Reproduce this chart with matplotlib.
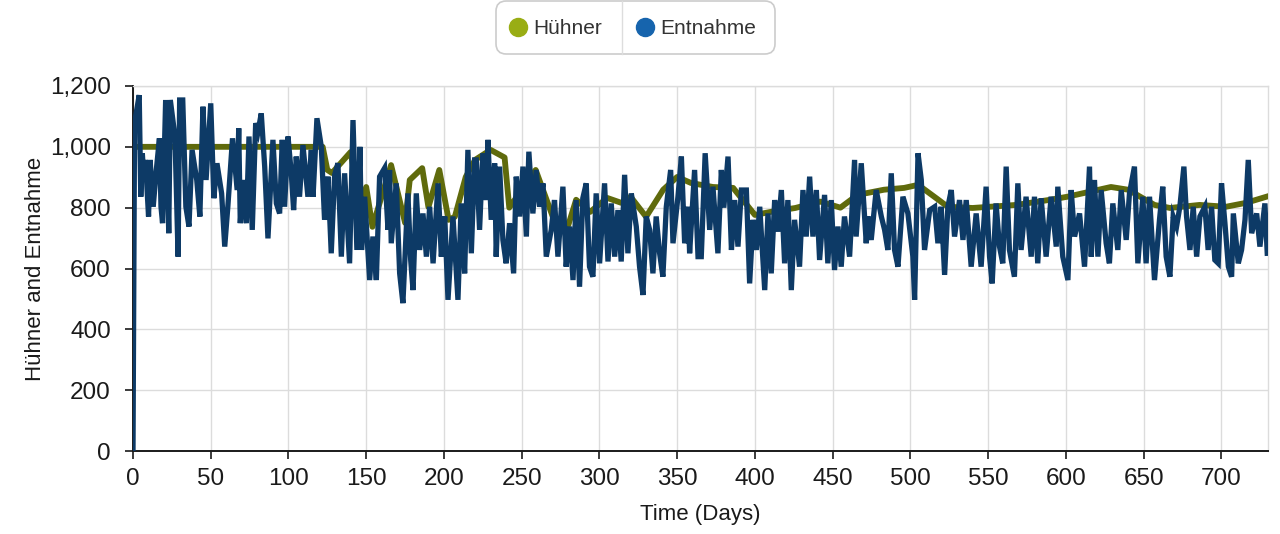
import matplotlib
matplotlib.use("Agg")
import matplotlib.pyplot as plt
from matplotlib.patches import FancyBboxPatch
from matplotlib.lines import Line2D
from matplotlib.ticker import FuncFormatter

plt.rcParams['font.family'] = ['Liberation Sans', 'DejaVu Sans']

# ---- data ----
huehner_days = [0, 122, 125, 128, 140, 146, 150, 154, 166, 175, 178, 186, 190, 197, 203, 207,
                214, 220, 230, 239, 242, 259, 270, 280, 285, 294, 305, 314, 320, 330, 341, 350,
                359, 373, 386, 400, 410, 426, 442, 455, 466, 483, 496, 505, 518, 524, 540, 568,
                590, 601, 629, 640, 657, 667, 686, 703, 716, 729]
huehner_values = [1000, 1000, 924, 914, 983, 800, 868, 737, 940, 750, 891, 930, 802, 924, 760, 770,
                  901, 957, 990, 965, 800, 924, 770, 743, 826, 786, 832, 816, 836, 770, 859, 901,
                  881, 868, 865, 776, 786, 799, 820, 800, 842, 859, 865, 875, 826, 803, 799, 809,
                  826, 836, 868, 859, 809, 799, 809, 803, 816, 836]

entnahme_days = [0, 1, 4, 5, 6, 7, 8, 10, 11, 13, 15, 17, 18, 19, 21, 23, 24, 27, 29, 30, 32, 34,
                 36, 38, 41, 43, 45, 47, 50, 52, 54, 57, 59, 61, 64, 67, 68, 69,
                 70.7, 72.9, 74.6, 76.7, 78.9, 80.4, 82.5, 84.7, 86.8, 90, 92.2, 94.3, 96, 97.5,
                 99.7, 101.8, 103.3, 105, 107.1, 109.3, 112.5, 114.7, 115.8, 118.3, 121.1, 123.2,
                 125.4, 127.5, 129.7, 131.8, 134, 136.1, 139.3, 141.5, 144, 146, 147, 149,
                 152.2, 154.3, 156.5, 158.6, 161.8, 164, 165, 166.1, 169.3, 171.5, 173.6, 176.8,
                 178.6, 180.1, 182.2, 184.4, 186.5, 188.7, 190.8, 193, 196.2, 198.3, 200.5, 202.6,
                 205.8, 209, 211.1, 213.3, 215.4, 217.6, 219.7,
                 220.8, 222.9, 225, 227.2, 228.3, 230.4, 232.6, 233.6, 235.8, 237.9, 240, 242.2,
                 244.8, 246.5, 248.7, 250.8, 253, 254.6, 257.2, 259.3, 261.5, 263.7, 265.8, 269,
                 271.1, 273.3, 276.5, 278.6, 280.8, 283, 285, 287.2, 289.3, 291.5, 293.6,
                 295.8, 297.9, 300.1, 303.3, 305.5, 307.6, 309.8, 311.9, 314, 316.2, 318.3, 320.5,
                 323.7, 325.8, 328, 330.1, 332.3, 334.4, 336.5, 338.7, 340.8, 343, 345.8, 347.3,
                 350.5, 352.7, 354.8, 357, 358, 361.2, 363.4, 365.5, 368,
                 370.9, 373, 376.2, 378.4, 380, 382.7, 384.9, 387, 389.1, 391.3, 394.5, 396.6,
                 398.8, 400.9, 403.1, 406.3, 408.4, 410.5, 412.7, 414.8, 417, 419.1, 421.2, 423.4,
                 425.5, 428.7, 430.9, 433, 435.2, 437.3, 439.5, 441.6,
                 444.8, 446.9, 449.1, 451.2, 453.4, 455.5, 457.6, 460.9, 464.1, 465.1, 468.4,
                 471.6, 472.7, 474.8, 478, 481.3, 483.4, 485.5, 487.7, 489.8, 492, 495.2, 498.4,
                 501.6, 502.7, 504.9, 507, 509.1, 512.4, 515.6,
                 517.7, 519.8, 522, 524.1, 526.3, 528.4, 531.6, 533.8, 535.9, 539.1, 542.3, 545.5,
                 548.7, 550.9, 552.6, 555.1, 557.3, 559.4, 561.6, 563.7, 566.9, 569.1, 571.2,
                 574.4, 577.7, 579.8, 581.9, 584.1, 587.3, 590.5,
                 593.8, 594.8, 598, 601.3, 603.4, 605.6, 608.8, 612, 615.2, 616.3, 618.4, 620.6,
                 622.7, 625.9, 628, 630.2, 633.4, 635.6, 638.8, 640.9, 644.1, 646.3, 649.5, 651.6,
                 653.8, 657, 660.2, 662.3, 664.5,
                 666.9, 669, 671.2, 673.3, 675.9, 677.6, 679.8, 681.9, 684.1, 686.2, 689.4, 691.5,
                 693.7, 695.8, 698, 700.1, 702.3, 704.5, 706.6, 707.7, 710.9, 713, 715.2, 717.3,
                 719.5, 722.7, 724.8, 728, 729.5]
entnahme_values = [0, 1080, 1170, 836, 979, 891, 957, 771, 957, 803, 924, 1028, 803, 749, 1154, 716,
                   1154, 1034, 639, 1154, 1154, 803, 738, 990, 891, 771, 1132, 891, 1143, 831, 946,
                   847, 672, 803, 1028, 858, 1061, 749,
                   891, 749, 1034, 727, 1078, 1050, 1110, 935, 699, 1023, 814, 781, 1023, 803,
                   1034, 913, 792, 968, 836, 1006, 836, 990, 836, 1094, 1001, 760,
                   902, 650, 908, 946, 639, 913, 617, 1088, 661, 1000, 661, 836,
                   562, 705, 562, 902, 930, 727, 924, 683, 880, 584, 486, 847,
                   628, 529, 847, 661, 781, 639, 803, 617, 880, 639, 771, 497,
                   771, 497, 814, 584, 990, 650, 957,
                   957, 727, 979, 825, 1023, 760, 946, 639, 935, 694, 617, 749,
                   584, 902, 771, 935, 705, 984, 781, 924, 803, 880, 639, 727,
                   825, 639, 869, 606, 738, 562, 825, 540, 831, 880, 606,
                   573, 847, 617, 880, 623, 814, 639, 792, 623, 908, 650, 847,
                   738, 606, 513, 771, 727, 584, 771, 650, 573, 803, 924, 683,
                   836, 968, 683, 803, 650, 924, 639, 639, 979,
                   727, 869, 650, 924, 800, 968, 661, 825, 672, 858, 858, 551,
                   760, 661, 803, 529, 781, 584, 825, 721, 858, 617, 825, 529,
                   760, 606, 858, 705, 902, 705, 858, 628,
                   842, 617, 825, 595, 738, 606, 771, 639, 957, 705, 946,
                   683, 771, 694, 858, 771, 727, 661, 913, 661, 606, 836, 781,
                   639, 497, 979, 891, 661, 792, 803,
                   683, 803, 579, 803, 858, 705, 825, 694, 825, 606, 781, 606,
                   869, 639, 551, 814, 672, 617, 935, 661, 573, 880, 661,
                   836, 639, 836, 617, 831, 639, 836,
                   672, 869, 639, 562, 858, 705, 781, 606, 935, 639, 891, 639,
                   858, 683, 617, 814, 661, 858, 694, 847, 935, 617, 836, 617,
                   836, 562, 760, 869, 639,
                   573, 771, 738, 803, 935, 771, 661, 803, 639, 771, 803, 661,
                   803, 628, 617, 880, 749, 606, 573, 781, 617, 661, 760, 957,
                   716, 781, 672, 814, 650]

series_labels = ["Hühner", "Entnahme"]
x_ticks = list(range(0, 701, 50))
y_ticks = list(range(0, 1201, 200))
x_label = "Time (Days)"
y_label = "Hühner and Entnahme"

# ---- styling ----
olive_line = "#5f6a0c"
navy_line = "#0d3a66"
olive_marker = "#99ad14"
navy_marker = "#1664ad"
grid_color = "#dcdcdc"
text_color = "#1a1a1a"

fig = plt.figure(figsize=(12.8, 5.34), dpi=100)
ax = fig.add_axes([133 / 1280, 83 / 534, 1135 / 1280, 365 / 534])

ax.plot(huehner_days, huehner_values, color=olive_line, lw=4.2, solid_joinstyle='round', zorder=3)
ax.plot(entnahme_days, entnahme_values, color=navy_line, lw=3.8, solid_joinstyle='miter', zorder=4)

ax.set_xlim(0, 730)
ax.set_ylim(0, 1200)
ax.set_xticks(x_ticks)
ax.set_yticks(y_ticks)
ax.yaxis.set_major_formatter(FuncFormatter(lambda v, p: f"{int(v):,}"))
ax.tick_params(axis='both', labelsize=17.5, colors=text_color, length=6, width=1.2, direction='out')
ax.tick_params(axis='x', pad=6)
ax.tick_params(axis='y', pad=10)
ax.grid(True, color=grid_color, lw=1.0, zorder=0)
ax.set_axisbelow(True)
for s in ['top', 'right']:
    ax.spines[s].set_color(grid_color)
    ax.spines[s].set_linewidth(1.0)
for s in ['left', 'bottom']:
    ax.spines[s].set_color(text_color)
    ax.spines[s].set_linewidth(1.4)

ax.set_xlabel(x_label, fontsize=16, color=text_color, labelpad=10)
ax.set_ylabel(y_label, fontsize=16, color=text_color, labelpad=3)

# ---- legend box (custom, top centre) ----
bx0, bx1 = 496 / 1280, 775 / 1280
by0, by1 = 1 - 54 / 534, 1 - 1 / 534
box = FancyBboxPatch((bx0, by0), bx1 - bx0, by1 - by0,
                     boxstyle="round,pad=0,rounding_size=0.008",
                     transform=fig.transFigure, facecolor='white',
                     edgecolor='#cccccc', lw=1.2, mutation_aspect=1280 / 534)
fig.patches.append(box)
fig.add_artist(Line2D([622 / 1280, 622 / 1280], [by0, by1], transform=fig.transFigure,
                      color='#dddddd', lw=1))
ym = 1 - 27 / 534
fig.add_artist(Line2D([518 / 1280], [ym], marker='o', markersize=13, color=olive_marker,
                      transform=fig.transFigure, linestyle='none'))
fig.text(533 / 1280, ym - 1 / 534, series_labels[0], fontsize=15, color='#333333', va='center', ha='left')
fig.add_artist(Line2D([645 / 1280], [ym], marker='o', markersize=13, color=navy_marker,
                      transform=fig.transFigure, linestyle='none'))
fig.text(660 / 1280, ym - 1 / 534, series_labels[1], fontsize=15, color='#333333', va='center', ha='left')

fig.savefig("out.png", dpi=100)
